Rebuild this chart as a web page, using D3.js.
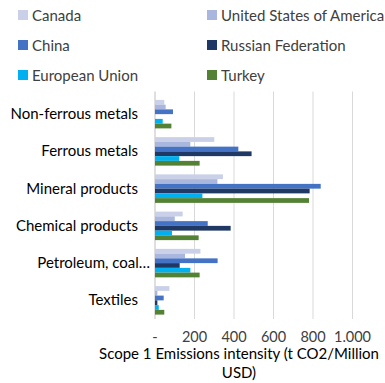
<!DOCTYPE html>
<html><head><meta charset="utf-8">
<script src="https://cdn.jsdelivr.net/npm/d3@7"></script>
<style>body{margin:0;background:#fff;} text{font-family:Lato,"Open Sans",sans-serif;fill:#000;}</style>
</head><body>
<svg id="c" width="385" height="383"></svg>
<script>
const categories = ["Non-ferrous metals","Ferrous metals","Mineral products","Chemical products","Petroleum, coal…","Textiles"];
const seriesNames = ["Canada","United States of America","China","Russian Federation","European Union","Turkey"];
const colors = ["#C9D0E8","#A9B7DF","#4472C4","#1F3864","#00B0F0","#548235"];
const canada = [47,300,344,140,230,73];
const usa = [54,179,316,100,152,12];
const china = [91,422,839,267,317,44];
const russia = [0,489,783,383,125,12];
const eu = [39,123,240,86,179,19];
const turkey = [83,226,780,221,226,47];
const values = [canada,usa,china,russia,eu,turkey];
const xTicks = [0,200,400,600,800,1000];
const xTickLabels = ["-","200","400","600","800","1.000"];

(function(){
const svg = d3.select("#c");
const pl = 155, pr = 352.5, pt = 95.5, pb = 319;
const x = d3.scaleLinear().domain([0,1000]).range([pl,pr]);
const y = d3.scaleBand().domain(categories).range([pt,pb]).paddingInner(0.235).paddingOuter(0.118);
const ys = d3.scaleBand().domain(seriesNames).range([0,y.bandwidth()]);

svg.append("g").selectAll("line").data(xTicks).join("line")
  .attr("x1",d=>x(d)).attr("x2",d=>x(d)).attr("y1",pt-4).attr("y2",pb)
  .attr("stroke",d=>d===0?"#BFBFBF":"#D9D9D9").attr("stroke-width",1);

seriesNames.forEach((s,si)=>{
  svg.append("g").selectAll("rect").data(categories).join("rect")
    .attr("x",x(0)).attr("y",(c)=>y(c)+ys(s))
    .attr("width",(c,i)=>x(values[si][i])-x(0))
    .attr("height",ys.bandwidth())
    .attr("fill",colors[si]);
});

svg.append("g").selectAll("text").data(categories).join("text")
  .attr("x",(d,i)=> i===4 ? 150 : 138)
  .attr("y",d=>y(d)+y.bandwidth()/2+5)
  .attr("text-anchor","end").attr("font-size",15).text(d=>d);

svg.append("g").selectAll("text").data(xTicks).join("text")
  .attr("x",d=>x(d)).attr("y",342).attr("text-anchor","middle").attr("font-size",14.5)
  .style("fill","#404040")
  .text((d,i)=>xTickLabels[i]);

svg.append("text").attr("x",239).attr("y",359).attr("text-anchor","middle").attr("font-size",15).text("Scope 1 Emissions intensity (t CO2/Million");
svg.append("text").attr("x",239).attr("y",378).attr("text-anchor","middle").attr("font-size",15).text("USD)");

const legX = [18,207], legY = [15,45,75];
seriesNames.forEach((s,i)=>{
  const lx = legX[i%2], ly = legY[Math.floor(i/2)];
  svg.append("rect").attr("x",lx).attr("y",ly-5).attr("width",10).attr("height",10).attr("fill",colors[i]);
  svg.append("text").attr("x",lx+14).attr("y",ly+5.5).attr("font-size",15)
    .style("fill","#404040").text(s);
});
})();
</script>
</body></html>
